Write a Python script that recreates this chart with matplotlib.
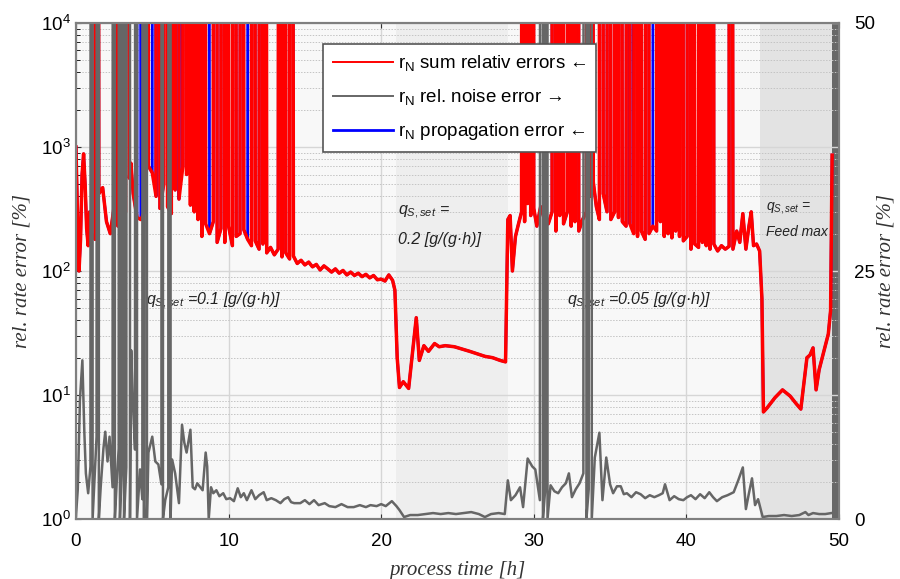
import numpy as np
import matplotlib.pyplot as plt
from matplotlib.lines import Line2D

plt.rcParams['font.family'] = ['Liberation Sans', 'DejaVu Sans']
plt.rcParams['mathtext.fontset'] = 'custom'
plt.rcParams['mathtext.rm'] = 'Liberation Sans'
plt.rcParams['mathtext.it'] = 'Liberation Sans:italic'

# sum of relative errors, base course [%] (left axis)
base_t = [0.0, 0.1, 0.2, 0.3, 0.4, 0.5, 0.6, 0.7, 0.8, 0.9, 1.0,
          1.25, 1.5, 1.75, 2.0, 2.25, 2.5, 2.75, 3.0, 3.25, 3.5, 3.6, 3.75,
          4.0, 4.25, 4.5, 4.75, 5.0, 5.25, 5.5, 5.75, 6.0, 6.25, 6.5, 6.75,
          7.0, 7.25, 7.5, 7.75, 8.0, 8.25, 8.5, 8.75, 9.0, 9.25, 9.5, 9.75,
          10.0, 10.25, 10.5, 10.75, 11.0, 11.25, 11.5, 11.75, 12.0, 12.25,
          12.5, 12.75, 13.0, 13.25, 13.5, 13.75, 14.0, 14.25, 14.5, 14.75,
          15.0, 15.25, 15.5, 15.75, 16.0, 16.25, 16.5, 16.75, 17.0, 17.25,
          17.5, 17.75, 18.0, 18.25, 18.5, 18.75, 19.0, 19.25, 19.5, 19.75,
          20.0, 20.25, 20.5, 20.75, 20.9, 21.05, 21.2, 21.45, 21.8, 22.3,
          22.5, 22.8, 23.1, 23.5, 23.8, 24.2, 24.8, 25.3, 25.8, 26.3, 26.8,
          27.3, 27.8, 28.15, 28.3, 28.45, 28.6, 28.8, 29.0, 29.2, 29.4, 29.6,
          29.8, 30.0, 30.2, 30.45, 30.7, 30.95, 31.2, 31.45, 31.7, 31.95,
          32.2, 32.45, 32.7, 32.95, 33.2, 33.45, 33.7, 33.9, 34.1, 34.3,
          34.55, 34.8, 35.05, 35.3, 35.55, 35.8, 36.05, 36.3, 36.55, 36.8,
          37.05, 37.3, 37.55, 37.8, 38.05, 38.3, 38.55, 38.8, 39.05, 39.3,
          39.55, 39.8, 40.05, 40.3, 40.55, 40.8, 41.05, 41.3, 41.55, 41.8,
          42.05, 42.3, 42.55, 42.8, 43.05, 43.3, 43.5, 43.7, 43.9, 44.1,
          44.25, 44.4, 44.6, 44.8, 44.95, 45.05, 45.3, 45.8, 46.3, 46.8,
          47.2, 47.5, 47.75, 47.9, 48.1, 48.3, 48.5, 48.7, 48.9, 49.1, 49.3,
          49.45, 49.55]
base_v = [1000, 280, 100, 180, 600, 880, 500, 220, 160, 300, 200,
          180, 420, 470, 250, 200, 330, 230, 350, 300, 560, 740, 420,
          270, 260, 300, 700, 620, 400, 320, 500, 330, 290, 450, 380,
          690, 600, 340, 300, 260, 190, 240, 200, 250, 170, 220, 170,
          230, 160, 190, 200, 215, 180, 160, 175, 150, 165,
          140, 155, 135, 150, 130, 140, 125, 132, 115, 122,
          112, 118, 108, 113, 102, 110, 104, 98, 104, 96,
          101, 93, 98, 92, 96, 90, 94, 88, 92, 85,
          86, 83, 93, 84, 70, 20, 11.5, 12.8, 11.3, 42,
          19, 25, 22.5, 26, 24.5, 25, 24.5, 23.5, 22.5, 21.5, 20.5,
          20, 19, 18.5, 260, 280, 100, 190, 240, 300, 250, 350,
          280, 320, 230, 330, 260, 240, 300, 210, 280, 240,
          300, 230, 250, 210, 260, 300, 400, 520, 330, 260,
          420, 300, 260, 300, 270, 250, 230, 240, 200, 190,
          210, 180, 200, 230, 210, 250, 190, 200, 185, 210,
          190, 175, 190, 150, 165, 155, 170, 160, 150, 165,
          145, 160, 150, 158, 150, 210, 170, 290, 150, 230,
          300, 160, 165, 145, 60, 7.3, 7.9, 9.5, 11, 9.8,
          8.5, 7.7, 14, 20, 21, 24, 11, 16, 20, 25, 31,
          48, 860]

# times where both error estimates run off scale
spike_t = [1.3, 2.7, 2.85, 3.3, 4.6, 5.3, 5.9, 6.25, 6.5, 6.7,
           7.1, 7.3, 7.6, 7.9, 8.15, 8.3, 9.0, 9.2, 9.55, 9.9, 10.4,
           10.85, 11.6, 12.1, 12.3, 13.45, 13.65, 14.0,
           29.3, 29.45, 29.75, 29.9, 31.2, 31.45, 31.7, 32.2, 32.6, 32.9,
           33.5, 33.7, 34.3, 34.5, 34.9, 35.3, 35.6, 36.2, 36.7, 36.9,
           37.5, 38.1, 38.3, 38.5, 38.65, 38.85, 39.05, 39.25, 39.45,
           39.65, 40.1, 40.3, 40.95, 41.15, 41.4, 41.7, 42.85]
# off-scale points of the propagation error only
blue_spike_t = [4.05, 5.05, 6.95, 8.65, 11.3, 36.45, 37.9]
off_scale = 1e30

# relative noise error [%] (right axis), 999 = off scale
gray_t = [0.0, 0.12, 0.26, 0.42, 0.55, 0.65, 0.8, 0.95, 1.09, 1.09, 1.2,
          1.35, 1.5, 1.5, 1.62, 1.8, 1.92, 2.07, 2.2, 2.4, 2.55, 2.55, 2.68,
          2.8, 2.88, 2.88, 3.0, 3.15, 3.15, 3.3, 3.54, 3.54, 3.62, 3.72,
          3.87, 4.0, 4.0, 4.2, 4.35, 4.46, 4.46, 4.65, 4.65, 4.75, 5.0, 5.2,
          5.4, 5.6, 5.7, 5.7, 5.85, 6.05, 6.2, 6.2, 6.3, 6.5, 6.75, 6.95,
          7.1, 7.25, 7.5, 7.65, 7.8, 7.95, 8.1, 8.3, 8.5, 8.6, 8.7, 8.85,
          9.0, 9.2, 9.4, 9.65, 9.85, 10.1, 10.35, 10.6, 10.8, 11.0, 11.2,
          11.5, 11.75, 12.0, 12.3, 12.5, 12.8, 13.1, 13.4, 13.65, 13.9,
          14.1, 14.3, 14.7, 15.0, 15.3, 15.6, 15.9, 16.3, 16.6, 17.0, 17.4,
          17.8, 18.2, 18.6, 19.0, 19.3, 19.7, 20.0, 20.3, 20.7, 21.0, 21.2,
          21.5, 21.9, 22.4, 22.9, 23.4, 23.9, 24.4, 24.9, 25.4, 25.9, 26.4,
          26.8, 27.2, 27.7, 28.1, 28.3, 28.5, 28.8, 29.1, 29.3, 29.6, 29.9,
          30.1, 30.4, 30.6, 30.6, 30.75, 30.9, 30.9, 31.1, 31.35, 31.6,
          31.85, 32.1, 32.3, 32.5, 32.75, 33.0, 33.25, 33.45, 33.45, 33.6,
          33.8, 33.8, 34.0, 34.3, 34.5, 34.75, 35.0, 35.2, 35.45, 35.7,
          35.9, 36.1, 36.4, 36.7, 37.0, 37.3, 37.6, 37.9, 38.2, 38.45, 38.6,
          38.9, 39.2, 39.5, 39.8, 40.05, 40.3, 40.6, 40.9, 41.2, 41.5,
          41.75, 42.0, 42.35, 42.7, 43.1, 43.4, 43.7, 43.9, 44.1, 44.3,
          44.5, 44.7, 45.0, 45.4, 45.9, 46.4, 46.9, 47.4, 47.8, 48.0, 48.3,
          48.7, 49.1, 49.5]
gray_v = [0.3, 3.0, 12, 16, 8.7, 4.6, 2.6, 5.3, 999, 0, 3.5,
          8.3, 999, 0, 3.2, 7.1, 8.8, 5.8, 8.3, 3.2, 999, 0, 4.0,
          7.1, 999, 0, 5.0, 999, 0, 5.2, 999, 0, 17, 12,
          7.0, 999, 0, 5.0, 2.0, 999, 0, 999, 0, 6.7, 8.3, 5.8,
          5.5, 3.5, 999, 0, 1.9, 3.2, 999, 0, 6.0, 4.6, 1.6, 9.5,
          7.7, 6.7, 9.0, 3.2, 3.0, 3.6, 3.3, 2.9, 6.7, 5.3, 0, 3.2,
          2.6, 2.9, 2.3, 2.6, 2.0, 2.1, 1.8, 3.1, 2.2, 2.6, 1.9,
          2.9, 2.0, 2.4, 2.7, 1.9, 2.1, 1.9, 1.6, 2.0, 2.2,
          1.7, 1.6, 1.6, 1.9, 1.5, 1.9, 1.4, 1.6, 1.3, 1.2, 1.5,
          1.2, 1.2, 1.4, 1.2, 1.4, 1.3, 1.5, 1.3, 1.8, 1.3, 0.9,
          0.2, 0.4, 0.4, 0.5, 0.6, 0.5, 0.6, 0.5, 0.6, 0.7, 0.5,
          0.2, 0.5, 0.6, 0.5, 3.9, 1.9, 2.4, 3.2, 1.2, 6.1, 5.3,
          5.0, 1.9, 999, 0, 3.0, 999, 0, 3.4, 2.8, 2.6,
          3.2, 3.6, 4.6, 2.2, 3.0, 3.6, 4.6, 999, 0, 3.0,
          999, 0, 6.2, 8.7, 1.9, 6.2, 3.5, 2.6, 3.3, 3.3,
          2.5, 2.6, 2.2, 2.7, 2.5, 2.1, 2.4, 2.2, 2.4, 2.6, 3.5,
          1.9, 2.3, 2.0, 1.9, 2.2, 2.4, 2.0, 2.5, 2.1, 2.7,
          2.2, 1.8, 2.2, 2.4, 2.7, 3.9, 5.2, 1.0, 2.6, 4.1,
          1.4, 2.0, 0.2, 0.3, 0.3, 0.4, 0.3, 0.4, 0.7, 0.4, 0.6,
          0.5, 0.5, 0.6]

# feed phases: edges and colours
phase_edges = [0, 21.0, 28.3, 44.8, 49.55, 50]
phase_colors = ['#f8f8f8', '#eeeeee', '#f8f8f8', '#e3e3e3', '#686868']

# red = base course with off-scale points merged in
red_t = np.array(base_t + spike_t)
red_v = np.array(base_v + [off_scale] * len(spike_t))
o = np.argsort(red_t, kind='stable')
red_t, red_v = red_t[o], red_v[o]

blue_t = np.array(base_t + spike_t + blue_spike_t)
blue_v = np.array(base_v + [off_scale] * (len(spike_t) + len(blue_spike_t)))
o = np.argsort(blue_t, kind='stable')
blue_t, blue_v = blue_t[o], blue_v[o]

fig = plt.figure(figsize=(9, 5.79), dpi=100)
ax = fig.add_axes([0.0844, 0.1036, 0.8478, 0.8567])

for i in range(len(phase_colors)):
    z = 1.5 if i == len(phase_colors) - 1 else 0
    ax.axvspan(phase_edges[i], phase_edges[i + 1], color=phase_colors[i],
               lw=0, zorder=z)

ax.set_yscale('log')
ax.set_xlim(0, 50)
ax.set_ylim(1, 1e4)
ax.grid(True, which='major', color='#d6d6d6', lw=1.0, zorder=0.5)
ax.grid(True, which='minor', axis='y', color='#c4c4c4', lw=0.7,
        ls=(0, (1.5, 1.5)), zorder=0.5)

ax.plot(blue_t, blue_v, color='#0000ff', lw=2.0, zorder=2)
ax.plot(red_t, red_v, color='#ff0000', lw=2.5, zorder=3)

ax2 = ax.twinx()
ax2.plot(gray_t, gray_v, color='#666666', lw=1.8)
ax2.set_ylim(0, 50)
ax2.set_yticks([0, 25, 50])

for a in (ax, ax2):
    for s in a.spines.values():
        s.set_color('#7f7f7f')
        s.set_linewidth(1.5)
    a.tick_params(direction='in', labelsize=13.5, colors='#333333',
                  labelcolor='black', top=True)
ax.tick_params(which='minor', direction='in', length=3)
ax2.tick_params(length=0, pad=11)
ax.set_xticks([0, 10, 20, 30, 40, 50])
ax.tick_params(axis='x', pad=10)

lab = dict(family='Liberation Serif', style='italic', fontsize=15,
           color='#333333')
ax.set_xlabel('process time [h]', labelpad=8, **lab)
ax.set_ylabel('rel. rate error [%]', **lab)
ax2.set_ylabel('rel. rate error [%]', **lab)
ax.yaxis.set_label_coords(-0.058, 0.5)
ax2.yaxis.set_label_coords(1.049, 0.5)

note = dict(fontsize=11.5, style='italic', color='#222222', zorder=5)
ax.text(4.6, 53, r'$q_{S,set}$ =0.1 [g/(g·h)]', **note)
ax.text(21.1, 282, r'$q_{S,set}$ =', **note)
ax.text(21.1, 165, '0.2 [g/(g·h)]', **note)
ax.text(32.2, 53, r'$q_{S,set}$ =0.05 [g/(g·h)]', **note)
small = dict(note, fontsize=10)
ax.text(45.2, 310, r'$q_{S,set}$ =', **small)
ax.text(45.2, 190, 'Feed max', **small)

handles = [Line2D([], [], color='#ff0000', lw=1.4),
           Line2D([], [], color='#666666', lw=1.4),
           Line2D([], [], color='#0000ff', lw=2.0)]
labels = [r'r$_{\mathregular{N}}$ sum relativ errors ←',
          r'r$_{\mathregular{N}}$ rel. noise error →',
          r'r$_{\mathregular{N}}$ propagation error ←']
leg = ax2.legend(handles, labels, loc='upper left',
                 bbox_to_anchor=(0.324, 0.958), fontsize=13.5, fancybox=False,
                 framealpha=1, edgecolor='#555555', handlelength=3.2,
                 borderpad=0.5, labelspacing=0.75, handletextpad=0.3,
                 borderaxespad=0)
leg.get_frame().set_linewidth(1.2)
leg.set_zorder(10)

fig.savefig('out.png', dpi=100)
